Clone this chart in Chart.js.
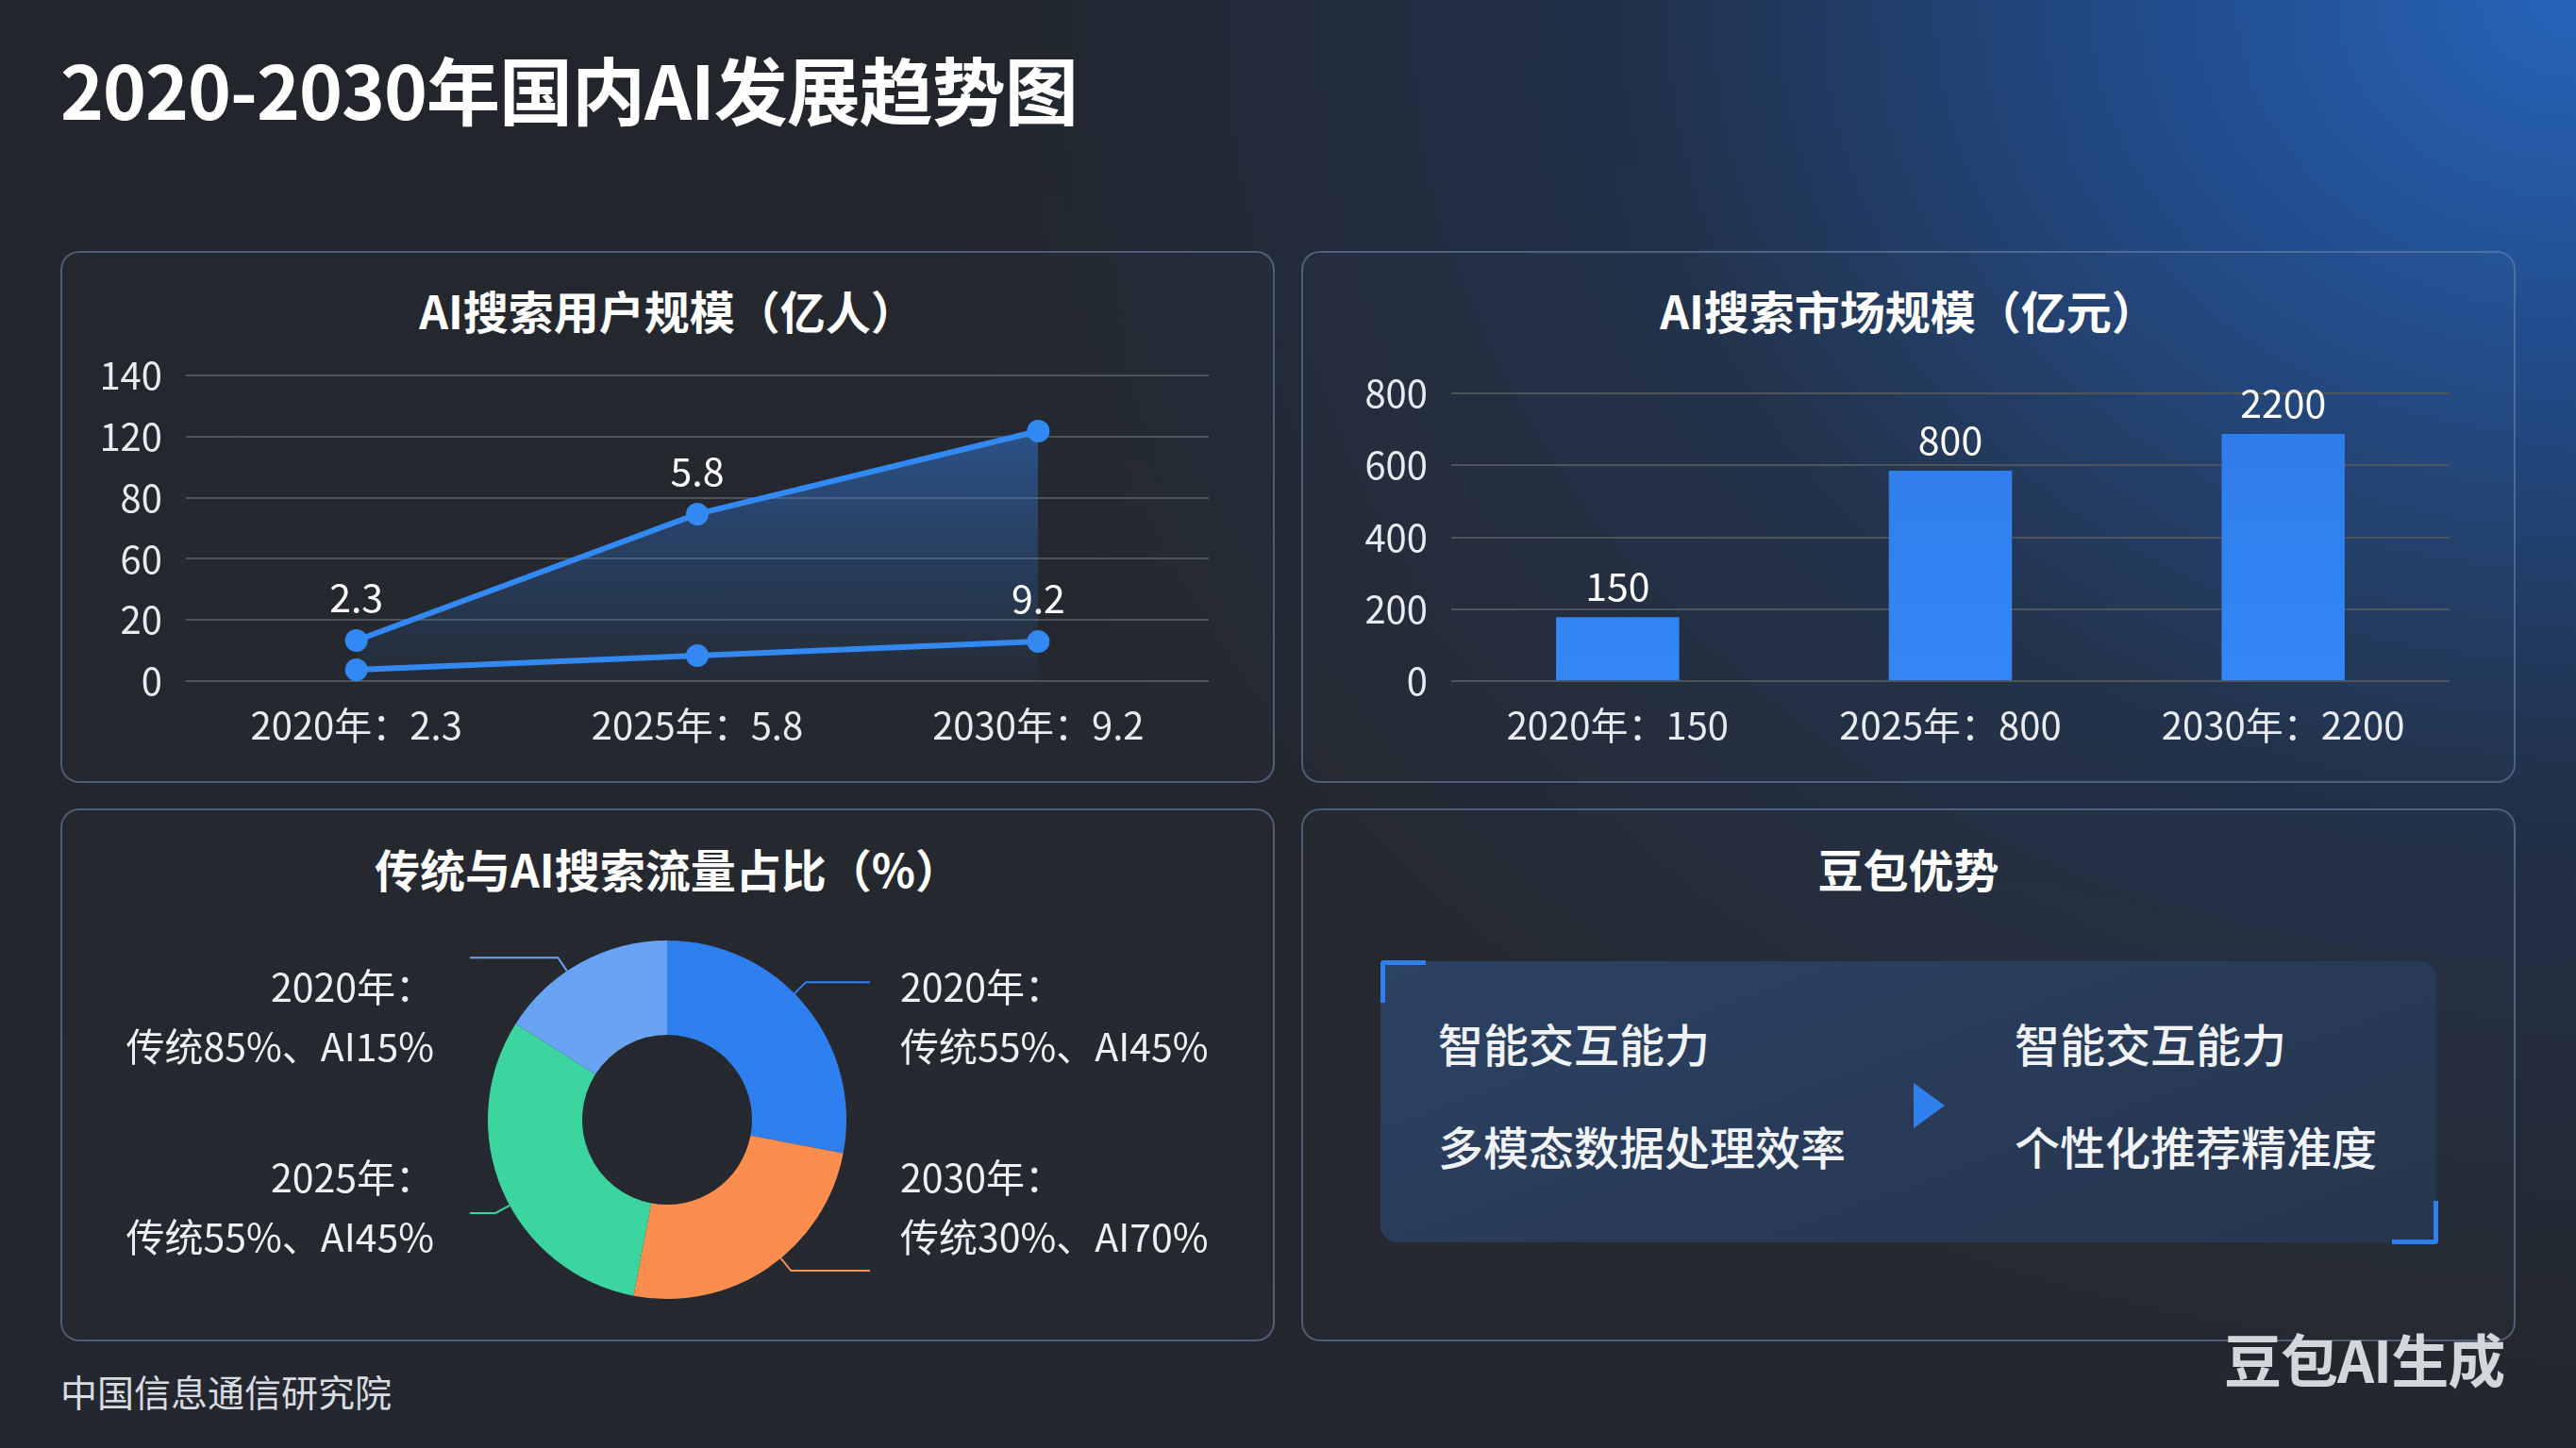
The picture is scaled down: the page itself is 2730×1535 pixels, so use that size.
<!DOCTYPE html>
<html><head><meta charset="utf-8">
<script src="https://cdn.jsdelivr.net/npm/chart.js@4.4.1/dist/chart.umd.min.js"></script>
<style>
html,body{margin:0;padding:0;}
body{width:2730px;height:1535px;overflow:hidden;background:#22262b;font-family:"Noto Sans CJK SC","Noto Sans",sans-serif;position:relative;}
#bg{position:absolute;left:0;top:0;width:2730px;height:1535px;background:
 radial-gradient(ellipse 1750px 1450px at 100% 0%, rgba(38,100,185,1) 0%, rgba(33,80,150,0.85) 28%, rgba(32,58,100,0.5) 58%, rgba(34,38,43,0) 100%),
 linear-gradient(180deg,#22262c,#24282e);}
.abs{position:absolute;}
.panel{position:absolute;border:2px solid rgba(105,130,165,0.6);border-radius:20px;box-sizing:border-box;background:rgba(255,255,255,0.012);}
.ptitle{position:absolute;left:0;right:0;text-align:center;color:#fff;font-size:48px;font-weight:700;line-height:48px;white-space:nowrap;}
canvas{position:absolute;}
.txt{position:absolute;white-space:nowrap;color:#f0f3f7;font-size:48px;font-weight:500;line-height:48px;}
</style></head>
<body>
<div id="bg"></div>
<div class="abs" style="left:64px;top:54px;color:#fff;font-size:78px;font-weight:700;line-height:78px;white-space:nowrap;letter-spacing:-1px;">2020-2030年国内AI发展趋势图</div>

<div class="panel" style="left:64px;top:266px;width:1287px;height:564px;"><div class="ptitle" style="top:36px;">AI搜索用户规模（亿人）</div></div>
<div class="panel" style="left:1379px;top:266px;width:1287px;height:564px;"><div class="ptitle" style="top:36px;">AI搜索市场规模（亿元）</div></div>
<div class="panel" style="left:64px;top:857px;width:1287px;height:565px;"><div class="ptitle" style="top:37px;">传统与AI搜索流量占比（%）</div></div>
<div class="panel" style="left:1379px;top:857px;width:1287px;height:565px;"><div class="ptitle" style="top:37px;">豆包优势</div></div>

<canvas id="lineChart" width="1200" height="440" style="left:100px;top:360px;"></canvas>
<canvas id="barChart" width="1200" height="440" style="left:1420px;top:360px;"></canvas>
<canvas id="donutChart" width="1287" height="480" style="left:64px;top:940px;"></canvas>

<div class="abs" style="left:1463px;top:1019px;width:1119px;height:298px;border-radius:18px;background:linear-gradient(160deg,#2c4264 0%,#293b58 50%,#27364f 100%);"></div>
<div class="abs" style="left:1463px;top:1018px;width:43px;height:40px;border-left:5px solid #2f80ed;border-top:5px solid #2f80ed;border-top-left-radius:4px;"></div>
<div class="abs" style="left:2535px;top:1273px;width:44px;height:41px;border-right:5px solid #2f80ed;border-bottom:5px solid #2f80ed;border-bottom-right-radius:4px;"></div>
<div class="txt" style="left:1524px;top:1081px;">智能交互能力</div>
<div class="txt" style="left:1524px;top:1190px;">多模态数据处理效率</div>
<div class="txt" style="left:2135px;top:1081px;">智能交互能力</div>
<div class="txt" style="left:2135px;top:1190px;">个性化推荐精准度</div>
<div class="abs" style="left:2028px;top:1148px;width:0;height:0;border-left:33px solid #2f80ed;border-top:24px solid transparent;border-bottom:24px solid transparent;"></div>

<div class="abs" style="left:64px;top:1455px;color:#d8dce1;font-size:39px;line-height:39px;white-space:nowrap;">中国信息通信研究院</div>
<div class="abs" style="left:2357px;top:1409px;color:#d3d6db;font-size:61px;font-weight:700;line-height:61px;white-space:nowrap;letter-spacing:-1px;">豆包AI生成</div>

<script>
// ---------- data ----------
const userCategories = ['2020年：2.3', '2025年：5.8', '2030年：9.2'];
const userTickLabels = ['0', '20', '60', '80', '120', '140'];
const usersUpper = [18.6, 76.5, 114.5];
const usersLower = [5.2, 11.7, 18.1];
const usersUpperLabels = ['2.3', '5.8', ''];
const usersLowerLabels = ['', '', '9.2'];

const marketCategories = ['2020年：150', '2025年：800', '2030年：2200'];
const marketValues = [178, 585, 687];
const marketLabels = ['150', '800', '2200'];
const marketTickLabels = ['0', '200', '400', '600', '800'];

const shareValues = [28, 25, 31, 16];
const shareYears = ['2020年：', '2030年：', '2025年：', '2020年：'];
const shareTexts = ['传统55%、AI45%', '传统30%、AI70%', '传统55%、AI45%', '传统85%、AI15%'];
const shareColors = ['#2f80ee', '#fb8d4e', '#3cd5a0', '#68a4f3'];

// ---------- setup ----------
const FONT = '"Noto Sans CJK SC","Noto Sans",sans-serif';
Chart.defaults.font.family = FONT;
Chart.defaults.color = '#e8ebef';
Chart.defaults.animation = false;

const valueLabels = {
  id: 'valueLabels',
  afterDatasetsDraw(chart, args, opts) {
    const c = chart.ctx;
    c.save();
    c.font = '41px ' + FONT;
    c.fillStyle = '#ffffff';
    c.textAlign = 'center';
    c.textBaseline = 'middle';
    (opts.sets || []).forEach((arr, di) => {
      const meta = chart.getDatasetMeta(di);
      arr.forEach((t, i) => {
        if (!t) return;
        const el = meta.data[i];
        c.fillText(t, el.x, el.y - opts.offset);
      });
    });
    c.restore();
  }
};

const gridOpts = { color: '#4f555c', lineWidth: 2, drawTicks: false };

new Chart(document.getElementById('lineChart'), {
  type: 'line',
  plugins: [valueLabels],
  data: {
    labels: userCategories,
    datasets: [
      {
        data: usersUpper,
        borderColor: '#3389f2',
        borderWidth: 6,
        pointRadius: 12,
        pointBackgroundColor: '#3389f2',
        pointBorderWidth: 0,
        fill: 'origin',
        backgroundColor: (ctx) => {
          const ca = ctx.chart.chartArea;
          if (!ca) return 'rgba(50,125,230,0.3)';
          const g = ctx.chart.ctx.createLinearGradient(0, ca.top + 50, 0, ca.bottom);
          g.addColorStop(0, 'rgba(50,125,230,0.5)');
          g.addColorStop(1, 'rgba(50,125,230,0.04)');
          return g;
        },
        tension: 0
      },
      {
        data: usersLower,
        borderColor: '#3389f2',
        borderWidth: 6,
        pointRadius: 12,
        pointBackgroundColor: '#3389f2',
        pointBorderWidth: 0,
        fill: false,
        tension: 0
      }
    ]
  },
  options: {
    responsive: false,
    layout: { padding: { top: 38, right: 19, left: 0, bottom: 0 } },
    plugins: { legend: { display: false }, tooltip: { enabled: false },
      valueLabels: { sets: [usersUpperLabels, usersLowerLabels], offset: 46 } },
    scales: {
      x: {
        offset: true,
        grid: { display: false },
        border: { display: false },
        ticks: { font: { size: 40 }, color: '#e8ebef', padding: 15 },
        afterFit: (s) => { s.height = 78; }
      },
      y: {
        min: 0, max: 140,
        grid: gridOpts,
        border: { display: false },
        ticks: { stepSize: 28, font: { size: 40 }, color: '#e8ebef', padding: 25,
          callback: (v, i) => userTickLabels[i] },
        afterFit: (s) => { s.width = 97; s.paddingTop = 0; s.paddingBottom = 0; }
      }
    }
  }
});

new Chart(document.getElementById('barChart'), {
  type: 'bar',
  plugins: [valueLabels],
  data: {
    labels: marketCategories,
    datasets: [{
      data: marketValues,
      backgroundColor: (ctx) => {
        const ca = ctx.chart.chartArea;
        if (!ca) return '#2f80ee';
        const g = ctx.chart.ctx.createLinearGradient(0, ca.top, 0, ca.bottom);
        g.addColorStop(0, '#2e7be9');
        g.addColorStop(1, '#3487f6');
        return g;
      },
      borderWidth: 0,
      barPercentage: 0.37,
      categoryPercentage: 1
    }]
  },
  options: {
    responsive: false,
    layout: { padding: { top: 57, right: 24, left: 0, bottom: 0 } },
    plugins: { legend: { display: false }, tooltip: { enabled: false },
      valueLabels: { sets: [marketLabels], offset: 33 } },
    scales: {
      x: {
        grid: { display: false },
        border: { display: false },
        ticks: { font: { size: 40 }, color: '#e8ebef', padding: 15 },
        afterFit: (s) => { s.height = 78; }
      },
      y: {
        min: 0, max: 800,
        grid: gridOpts,
        border: { display: false },
        ticks: { stepSize: 200, font: { size: 40 }, color: '#e8ebef', padding: 25,
          callback: (v, i) => marketTickLabels[i] },
        afterFit: (s) => { s.width = 118; s.paddingTop = 0; s.paddingBottom = 0; }
      }
    }
  }
});

const donutLabels = {
  id: 'donutLabels',
  afterDraw(chart) {
    const c = chart.ctx;
    const meta = chart.getDatasetMeta(0);
    c.save();
    meta.data.forEach((arc, i) => {
      const cx = arc.x, cy = arc.y, R = arc.outerRadius;
      const a = (arc.startAngle + arc.endAngle) / 2 - 0.09;
      const right = Math.cos(a) >= 0;
      const upper = Math.sin(a) < 0;
      const sx = cx + R * Math.cos(a), sy = cy + R * Math.sin(a);
      const ex = cx + (R + 17) * Math.cos(a), ey = cy + (R + 17) * Math.sin(a);
      const hx = right ? cx + 215 : cx - 209;
      c.strokeStyle = shareColors[i];
      c.lineWidth = 2;
      c.beginPath();
      c.moveTo(sx, sy); c.lineTo(ex, ey); c.lineTo(hx, ey);
      c.stroke();
      c.fillStyle = '#eef1f5';
      c.font = '41px ' + FONT;
      c.textBaseline = 'middle';
      c.textAlign = right ? 'left' : 'right';
      const tx = right ? cx + 247 : cx - 247;
      const y1 = upper ? cy - 141 : cy + 61;
      c.fillText(shareYears[i], tx, y1);
      c.fillText(shareTexts[i], tx, y1 + 63);
    });
    c.restore();
  }
};

new Chart(document.getElementById('donutChart'), {
  type: 'doughnut',
  plugins: [donutLabels],
  data: {
    labels: shareTexts,
    datasets: [{
      data: shareValues,
      backgroundColor: shareColors,
      borderWidth: 0,
      radius: 190,
      cutout: 90
    }]
  },
  options: {
    responsive: false,
    layout: { padding: { left: 453, right: 454, top: 57, bottom: 43 } },
    plugins: { legend: { display: false }, tooltip: { enabled: false } }
  }
});
</script>
</body></html>
